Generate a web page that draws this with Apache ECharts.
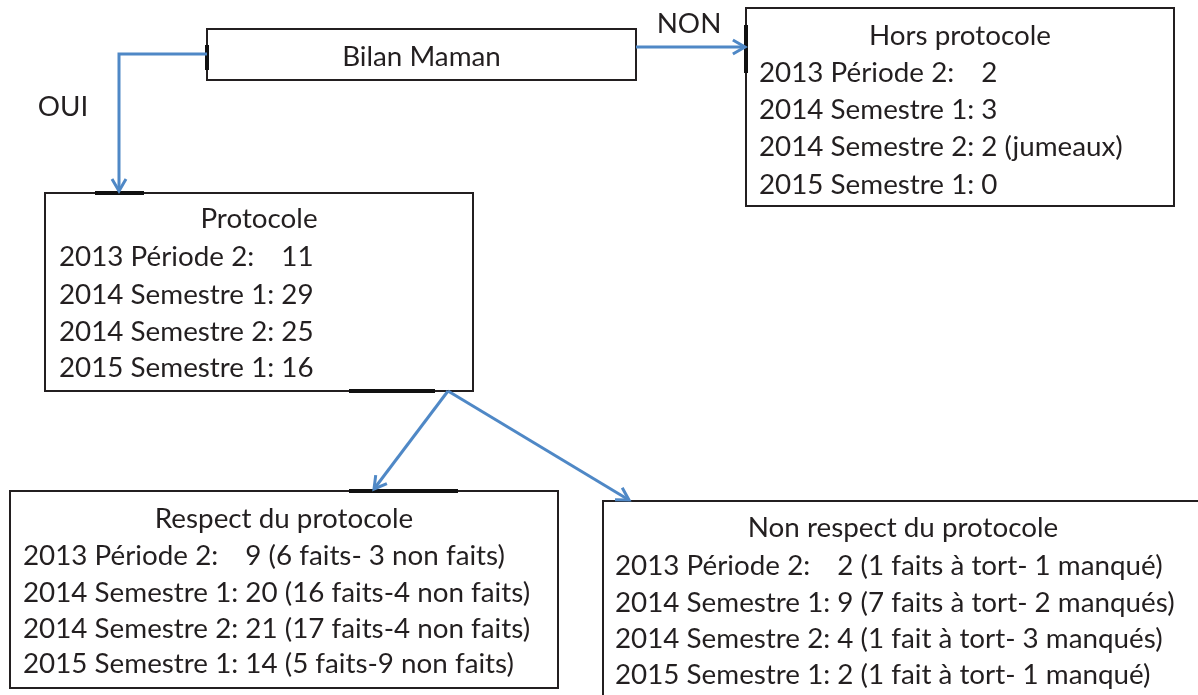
<!DOCTYPE html>
<html style="height: 100%">
<head>
    <meta charset="utf-8">
</head>
<body style="height: 100%; margin: 0; background: #fff">
<div id="container" style="width: 1198px; height: 695px"></div>
<script src="https://cdn.jsdelivr.net/npm/echarts@6/dist/echarts.min.js"></script>
<script type="text/javascript">
// contents of the boxes
var boxTitles = ['Bilan Maman', 'Hors protocole', 'Protocole', 'Respect du protocole', 'Non respect du protocole'];
var periods = ['2013 Période 2:', '2014 Semestre 1:', '2014 Semestre 2:', '2015 Semestre 1:'];
var horsValues = ['2', '3', '2 (jumeaux)', '0'];
var protocoleValues = ['11', '29', '25', '16'];
var respectValues = ['9 (6 faits- 3 non faits)', '20 (16 faits-4 non faits)', '21 (17 faits-4 non faits)', '14 (5 faits-9 non faits)'];
var nonRespectValues = ['2 (1 faits à tort- 1 manqué)', '9 (7 faits à tort- 2 manqués)', '4 (1 fait à tort- 3 manqués)', '2 (1 fait à tort- 1 manqué)'];
var branchLabels = ['OUI', 'NON'];
var boxValues = [[], horsValues, protocoleValues, respectValues, nonRespectValues];

// layout, in page pixels (x right, y down)
var boxRects = [[207, 29, 636, 80], [746, 8, 1174, 206], [45, 193, 473, 391], [10, 491, 558, 688], [603, 501, 1203, 730]];
var titleY = [57, 36, 219, 519, 528];
var rowY = [[], [73, 110, 147, 185], [257, 295, 332, 368], [556, 593, 629, 664], [566, 603, 639, 675]];
var textLeft = [0, 759, 59, 23, 615];
var marks = [[[207, 45], [207, 70]], [[746, 25], [746, 73]], [[95, 193], [144, 193]], [[349, 391], [435, 391]], [[349, 491], [458, 491]]];
var arrows = [[[207, 54], [119, 54], [119, 191]], [[636, 47], [745, 47]], [[448, 391], [374, 489]], [[448, 391], [629, 500]]];
var labelPos = [[63, 107], [689, 24]];

var fontFamily = 'Lato';
var fontSize = 27.8;
var textColor = '#231f20';
var arrowColor = '#4f88c6';

var ctx = document.createElement('canvas').getContext('2d');
ctx.font = fontSize + 'px ' + fontFamily;
var valueOffset = ctx.measureText('2014 Semestre 1: ').width;

function txt(x, y, s, align) {
    return {
        type: 'text',
        style: {
            text: s, x: x, y: y, fill: textColor,
            font: fontSize + 'px ' + fontFamily,
            align: align, textAlign: align,
            verticalAlign: 'middle', textVerticalAlign: 'middle'
        }
    };
}

var dom = document.getElementById('container');
var myChart = echarts.init(dom);

function renderBox(params, api) {
    var i = params.dataIndex;
    var r = boxRects[i];
    var p0 = api.coord([r[0], r[1]]);
    var p1 = api.coord([r[2], r[3]]);
    var children = [{
        type: 'rect',
        shape: {x: p0[0], y: p0[1], width: p1[0] - p0[0], height: p1[1] - p0[1]},
        style: {fill: '#fff', stroke: textColor, lineWidth: 2}
    }];
    children.push(txt((p0[0] + p1[0]) / 2, api.coord([0, titleY[i]])[1], boxTitles[i], 'center'));
    var vals = boxValues[i];
    for (var j = 0; j < vals.length; j++) {
        var y = api.coord([0, rowY[i][j]])[1];
        var x = api.coord([textLeft[i], 0])[0];
        children.push(txt(x, y, periods[j], 'left'));
        children.push(txt(x + valueOffset, y, vals[j], 'left'));
    }
    var m0 = api.coord(marks[i][0]), m1 = api.coord(marks[i][1]);
    children.push({
        type: 'line',
        shape: {x1: m0[0], y1: m0[1], x2: m1[0], y2: m1[1]},
        style: {stroke: '#111', lineWidth: 4}
    });
    return {type: 'group', children: children};
}

function renderArrow(params, api) {
    var pts = arrows[params.dataIndex].map(function (p) { return api.coord(p); });
    var a = pts[pts.length - 2], b = pts[pts.length - 1];
    var ang = Math.atan2(b[1] - a[1], b[0] - a[0]);
    var len = 14, spread = Math.PI / 6;
    var head = [
        [b[0] - len * Math.cos(ang - spread), b[1] - len * Math.sin(ang - spread)],
        b,
        [b[0] - len * Math.cos(ang + spread), b[1] - len * Math.sin(ang + spread)]
    ];
    return {
        type: 'group',
        children: [
            {type: 'polyline', shape: {points: pts}, style: {stroke: arrowColor, lineWidth: 3, fill: null}},
            {type: 'polyline', shape: {points: head}, style: {stroke: arrowColor, lineWidth: 3, fill: null}}
        ]
    };
}

function renderLabel(params, api) {
    var p = api.coord(labelPos[params.dataIndex]);
    return txt(p[0], p[1], branchLabels[params.dataIndex], 'center');
}

var option = {
    animation: false,
    backgroundColor: '#fff',
    grid: {left: 0, right: 0, top: 0, bottom: 0},
    xAxis: {type: 'value', min: 0, max: 1198, show: false},
    yAxis: {type: 'value', min: 0, max: 695, inverse: true, show: false},
    series: [
        {type: 'custom', renderItem: renderBox, data: boxTitles.map(function (t, i) { return [i]; }), clip: false},
        {type: 'custom', renderItem: renderArrow, data: arrows.map(function (a, i) { return [i]; }), clip: false},
        {type: 'custom', renderItem: renderLabel, data: branchLabels.map(function (l, i) { return [i]; }), clip: false}
    ]
};

myChart.setOption(option);
</script>
</body>
</html>
